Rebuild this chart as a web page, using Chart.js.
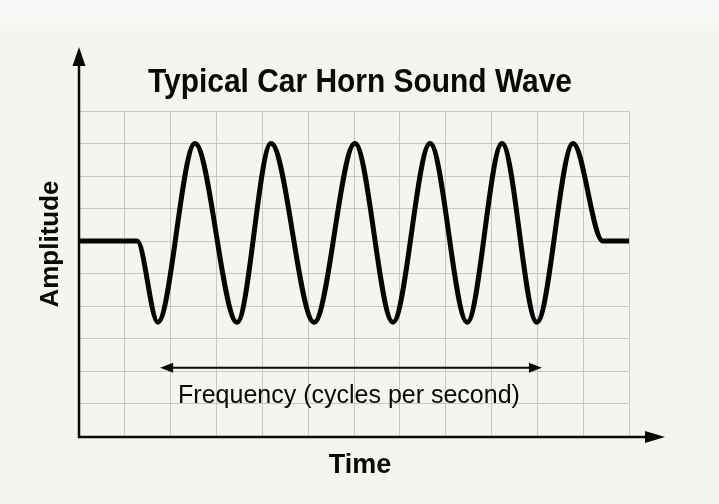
<!DOCTYPE html>
<html>
<head>
<meta charset="utf-8">
<title>Typical Car Horn Sound Wave</title>
<script src="https://cdn.jsdelivr.net/npm/chart.js@4.4.1/dist/chart.umd.min.js"></script>
<style>
  html, body { margin: 0; padding: 0; background: #f6f4ef; }
  canvas { display: block; }
</style>
</head>
<body>
<canvas id="waveChart" width="719" height="504"></canvas>
<script>
// Wave, in grid units (x: 0-12, y: 0-10)
const timeVals = [0, 1.27, 1.72, 2.53, 3.45, 4.19, 5.13, 6.02, 6.85, 7.66, 8.47, 9.23, 9.99, 10.78, 11.43, 12];
const ampVals = [6, 6, 3.5, 9, 3.5, 9, 3.5, 9, 3.5, 9, 3.5, 9, 3.5, 9, 6, 6];

const titleText = "Typical Car Horn Sound Wave";
const xLabel = "Time";
const yLabel = "Amplitude";
const freqLabel = "Frequency (cycles per second)";
const freqSpan = [1.77, 10.1]; // where the frequency arrow starts and ends (x units)
const freqLevel = 2.1;         // height of that arrow (y units)

const points = timeVals.map((t, i) => ({ x: t, y: ampVals[i] }));

function arrowHead(ctx, x, y, dir, len, half) {
  ctx.beginPath();
  if (dir === "up") {
    ctx.moveTo(x, y);
    ctx.lineTo(x - half, y + len);
    ctx.lineTo(x + half, y + len);
  } else if (dir === "right") {
    ctx.moveTo(x, y);
    ctx.lineTo(x - len, y - half);
    ctx.lineTo(x - len, y + half);
  } else {
    ctx.moveTo(x, y);
    ctx.lineTo(x + len, y - half);
    ctx.lineTo(x + len, y + half);
  }
  ctx.closePath();
  ctx.fill();
}

const paperPlugin = {
  id: "paper",
  beforeDraw(chart) {
    const ctx = chart.ctx;
    ctx.save();
    ctx.fillStyle = "#f6f4ef";
    ctx.fillRect(0, 0, chart.width, chart.height);
    ctx.fillStyle = "#f7f7f5";
    ctx.fillRect(0, 0, chart.width, 25);
    ctx.restore();
  }
};

const decorPlugin = {
  id: "decor",
  afterDraw(chart) {
    const ctx = chart.ctx;
    const area = chart.chartArea;
    const xs = chart.scales.x;
    const ys = chart.scales.y;
    ctx.save();
    ctx.fillStyle = "#0a0a0a";
    ctx.strokeStyle = "#0a0a0a";

    // axes with arrows
    ctx.lineWidth = 2.5;
    ctx.beginPath();
    ctx.moveTo(area.left, area.bottom + 2);
    ctx.lineTo(area.left, 62);
    ctx.stroke();
    arrowHead(ctx, area.left, 47, "up", 19, 6.5);

    ctx.beginPath();
    ctx.moveTo(area.left - 1, area.bottom + 1);
    ctx.lineTo(650, area.bottom + 1);
    ctx.stroke();
    arrowHead(ctx, 665, area.bottom + 1, "right", 20, 6);

    // frequency arrow
    const fy = ys.getPixelForValue(freqLevel);
    const fx1 = xs.getPixelForValue(freqSpan[0]);
    const fx2 = xs.getPixelForValue(freqSpan[1]);
    ctx.lineWidth = 2;
    ctx.beginPath();
    ctx.moveTo(fx1 + 8, fy);
    ctx.lineTo(fx2 - 8, fy);
    ctx.stroke();
    arrowHead(ctx, fx1, fy, "left", 13, 5);
    arrowHead(ctx, fx2, fy, "right", 13, 5);

    // texts
    ctx.textAlign = "center";
    ctx.textBaseline = "alphabetic";
    ctx.font = "bold 33px 'Liberation Sans', Arial, sans-serif";
    ctx.fillText(titleText, 360, 92, 424);

    ctx.font = "25px 'Liberation Sans', Arial, sans-serif";
    ctx.fillText(freqLabel, 349, 403, 342);

    ctx.font = "bold 27px 'Liberation Sans', Arial, sans-serif";
    ctx.fillText(xLabel, 360, 473);

    ctx.save();
    ctx.translate(58, 244);
    ctx.rotate(-Math.PI / 2);
    ctx.font = "bold 26px 'Liberation Sans', Arial, sans-serif";
    ctx.fillText(yLabel, 0, 0, 128);
    ctx.restore();

    ctx.restore();
  }
};

new Chart(document.getElementById("waveChart"), {
  type: "line",
  data: {
    datasets: [{
      data: points,
      borderColor: "#050505",
      borderWidth: 5,
      pointRadius: 0,
      fill: false,
      cubicInterpolationMode: "monotone",
      borderCapStyle: "round",
      borderJoinStyle: "round"
    }]
  },
  options: {
    responsive: false,
    animation: false,
    layout: { padding: { left: 79, right: 90, top: 111, bottom: 68 } },
    plugins: {
      legend: { display: false },
      title: { display: false },
      tooltip: { enabled: false }
    },
    scales: {
      x: {
        type: "linear",
        min: 0,
        max: 12,
        ticks: { display: false, stepSize: 1 },
        grid: { color: "#c9c7c3", lineWidth: 1, drawTicks: false },
        border: { display: false }
      },
      y: {
        type: "linear",
        min: 0,
        max: 10,
        ticks: { display: false, stepSize: 1 },
        grid: { color: "#c9c7c3", lineWidth: 1, drawTicks: false },
        border: { display: false }
      }
    }
  },
  plugins: [paperPlugin, decorPlugin]
});
</script>
</body>
</html>
